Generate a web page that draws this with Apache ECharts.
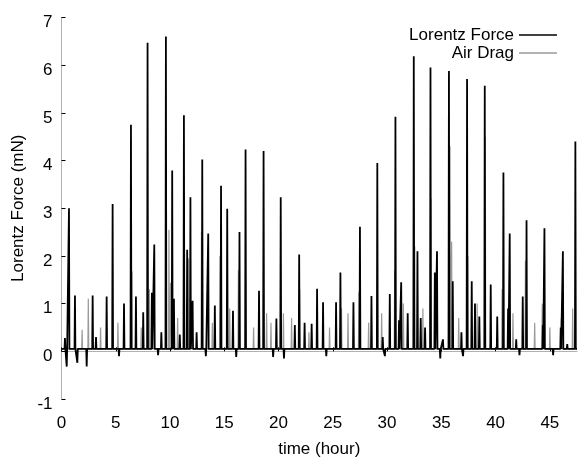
<!DOCTYPE html>
<html>
<head>
<meta charset="utf-8">
<script src="https://cdn.jsdelivr.net/npm/echarts@6/dist/echarts.min.js"></script>
<style>
html,body{margin:0;padding:0;background:#fff;}
#chart{width:578px;height:463px;}
</style>
</head>
<body>
<div id="chart"></div>
<script>
// ---- data ----
const xTicks = [0, 5, 10, 15, 20, 25, 30, 35, 40, 45];
const yTicks = [-1, 0, 1, 2, 3, 4, 5, 6, 7];
const seriesNames = ['Lorentz Force', 'Air Drag'];

const lorentzBaseline = 0.05;
// Lorentz Force spikes: time (hour) and peak (mN)
const lorentzTimes = [0.32,0.48,0.69,1.24,1.46,2.32,2.87,3.18,4.16,4.71,5.3,5.76,6.40,6.86,7.53,7.93,8.33,8.55,8.9,9.20,9.62,10.20,10.36,10.90,11.28,11.58,11.88,12.08,12.45,12.97,13.3,13.52,14.13,14.70,15.27,15.80,16.1,16.40,16.96,18.20,18.62,19.5,19.80,20.20,20.5,21.50,21.90,22.40,23.05,23.55,24.10,24.4,25.30,25.70,26.90,27.50,28.56,29.10,29.60,29.8,30.25,30.77,31.10,31.30,31.90,32.46,32.80,33.10,33.50,34.00,34.40,34.60,34.9,35.15,35.70,36.05,36.85,37.0,37.37,37.80,38.10,38.50,39.00,39.55,40.15,40.72,41.15,41.30,41.90,42.2,42.50,42.85,44.35,44.50,45.3,46.00,46.20,46.60,47.35];
const lorentzPeaks = [0.28,-0.32,3.0,1.17,-0.24,-0.32,1.17,0.30,1.15,3.09,-0.1,1.0,4.75,1.15,0.82,6.47,1.23,2.24,-0.08,0.40,6.6,3.79,1.1,0.35,4.95,2.13,3.23,1.06,0.40,4.02,-0.1,2.47,0.96,3.47,2.99,0.85,-0.12,2.5,4.23,1.27,4.2,-0.12,0.69,3.23,-0.15,0.55,2.03,0.60,0.58,1.31,1.03,-0.1,1.03,1.65,1.03,2.61,1.16,3.95,0.30,-0.1,1.2,4.92,0.65,1.45,0.80,6.19,2.1,0.70,0.50,5.95,1.65,2.1,-0.15,0.25,5.88,1.47,0.40,-0.1,5.71,1.47,1.0,0.73,5.57,1.4,0.73,3.75,0.9,2.47,0.25,-0.08,1.15,2.75,0.55,2.58,-0.08,0.50,2.1,0.15,4.4];

const dragBaseline = 0.05;
// Air Drag spikes: time (hour) and peak (mN)
const dragTimes = [1.9,2.47,3.6,5.2,6.50,7.35,8.1,9.90,10.05,10.7,11.70,12.90,13.90,14.60,15.5,16.30,17.70,18.90,19.3,20.45,21.2,21.95,22.8,24.7,25.80,26.4,27.40,28.3,29.50,30.70,31.5,32.55,33.3,34.05,35.80,35.95,36.6,37.45,38.3,39.05,40.6,41.6,42.75,43.6,44.30,45.0,46.05,47.1];
const dragPeaks = [0.45,1.1,0.5,0.6,1.68,0.5,1.3,2.55,1.44,0.7,1.95,2.5,0.6,2.0,0.9,1.7,0.5,0.8,0.6,0.8,0.7,1.3,0.4,0.5,0.9,0.8,1.25,0.6,0.8,1.7,1.0,2.2,0.9,3.2,4.3,2.3,0.7,2.0,1.0,4.5,1.3,0.8,1.9,0.6,1.0,0.5,0.7,0.9];

const xMin = 0, xMax = 47.5, yMin = -1, yMax = 7;

function spikeLine(times, peaks, base) {
  const pairs = times.map((t, i) => [t, peaks[i]]).sort((a, b) => a[0] - b[0]);
  const pts = [[xMin, base]];
  const hw = 0.04;
  pairs.forEach(([t, p]) => {
    pts.push([t - hw, base], [t, p], [t + hw, base]);
  });
  pts.push([xMax, base]);
  return pts;
}

const FONT = "'Liberation Sans', Arial, Helvetica, sans-serif";
const chart = echarts.init(document.getElementById('chart'), null, {renderer: 'canvas'});
chart.setOption({
  animation: false,
  backgroundColor: '#fff',
  grid: {left: 61.5, right: 1, top: 17.5, bottom: 58, containLabel: false},
  legend: {
    data: [
      {name: seriesNames[0], icon: 'rect', itemStyle: {color: '#000'}},
      {name: seriesNames[1], icon: 'rect', itemStyle: {color: '#9a9a9a'}}
    ],
    orient: 'vertical',
    right: 16,
    top: 21,
    align: 'right',
    itemWidth: 38,
    itemHeight: 1.5,
    itemGap: 0,
    textStyle: {fontFamily: FONT, fontSize: 17, color: '#000', lineHeight: 18}
  },
  xAxis: {
    type: 'value',
    min: xMin, max: xMax, interval: 5,
    name: 'time (hour)',
    nameLocation: 'middle',
    nameGap: 42,
    nameTextStyle: {fontFamily: FONT, fontSize: 17, color: '#000'},
    axisLine: {show: true, lineStyle: {color: '#b0b0b0', width: 1}},
    axisTick: {show: true, inside: true, length: 4, lineStyle: {color: '#000'}},
    splitLine: {show: false},
    axisLabel: {
      fontFamily: FONT, fontSize: 17, color: '#000', margin: 16,
      showMaxLabel: false,
      formatter: v => (xTicks.indexOf(v) >= 0 ? String(v) : '')
    }
  },
  yAxis: {
    type: 'value',
    min: yMin, max: yMax, interval: 1,
    name: 'Lorentz Force (mN)',
    nameLocation: 'middle',
    nameGap: 28,
    nameTextStyle: {fontFamily: FONT, fontSize: 17, color: '#000'},
    axisLine: {show: true, lineStyle: {color: '#b0b0b0', width: 1}},
    axisTick: {show: true, inside: true, length: 4, lineStyle: {color: '#000'}},
    splitLine: {show: false},
    axisLabel: {
      fontFamily: FONT, fontSize: 17, color: '#000', margin: 9,
      formatter: v => (yTicks.indexOf(v) >= 0 ? '{s|' + v + '}' : ''),
      rich: {s: {fontFamily: FONT, fontSize: 17, color: '#000', padding: [10, 0, 0, 0]}}
    }
  },
  series: [
    {
      name: seriesNames[1],
      type: 'line',
      symbol: 'none',
      z: 2,
      data: spikeLine(dragTimes, dragPeaks, dragBaseline),
      lineStyle: {color: '#9a9a9a', width: 1.2},
      itemStyle: {color: '#9a9a9a'}
    },
    {
      name: seriesNames[0],
      type: 'line',
      symbol: 'none',
      z: 3,
      data: spikeLine(lorentzTimes, lorentzPeaks, lorentzBaseline),
      lineStyle: {color: '#000', width: 1.8},
      itemStyle: {color: '#000'}
    }
  ]
});
</script>
</body>
</html>
